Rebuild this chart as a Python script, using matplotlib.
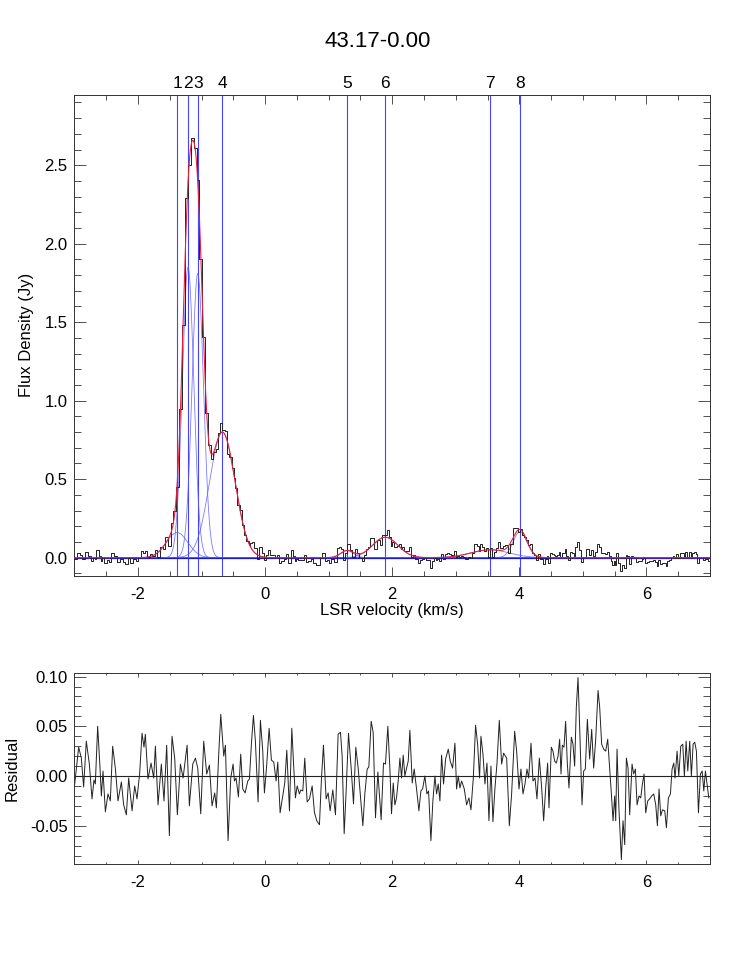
import numpy as np
import matplotlib
matplotlib.use('Agg')
import matplotlib.pyplot as plt
from matplotlib.ticker import MultipleLocator
import matplotlib.transforms as mtransforms

plt.rcParams['font.family'] = ['Liberation Sans', 'DejaVu Sans']
plt.rcParams['axes.unicode_minus'] = False

title = '43.17-0.00'

# Gaussian components of the fit: centre (km/s), peak (Jy), sigma (km/s)
comp_labels = ['1', '2', '3', '4', '5', '6', '7', '8']
comp_vel = [-1.386, -1.213, -1.060, -0.673, 1.290, 1.890, 3.540, 4.010]
comp_amp = [0.160, 1.850, 1.810, 0.800, 0.045, 0.130, 0.050, 0.165]
comp_sig = [0.170, 0.090, 0.090, 0.200, 0.100, 0.200, 0.300, 0.110]

# residual (data - fit)
res_vel = [
    -3.000, -2.934, -2.892, -2.856, -2.814, -2.766, -2.724, -2.693, -2.672, -2.635,
    -2.598, -2.577, -2.551, -2.514, -2.472, -2.436, -2.399, -2.357, -2.315, -2.262,
    -2.226, -2.184, -2.147, -2.094, -2.053, -2.016, -1.974, -1.937, -1.906, -1.885,
    -1.843, -1.795, -1.753, -1.727, -1.685, -1.633, -1.591, -1.549, -1.507, -1.465,
    -1.423, -1.381, -1.333, -1.291, -1.228, -1.192, -1.139, -1.097, -1.060, -1.013,
    -0.966, -0.919, -0.877, -0.835, -0.793, -0.767, -0.730, -0.698, -0.651, -0.625,
    -0.583, -0.541, -0.504,
    -0.483, -0.457, -0.420, -0.384, -0.352, -0.315, -0.273, -0.247, -0.216, -0.184,
    -0.153, -0.111, -0.074, -0.037, -0.011, 0.026, 0.063, 0.099, 0.136, 0.173,
    0.199, 0.236, 0.278, 0.309, 0.341, 0.383, 0.420, 0.451, 0.477, 0.504,
    0.540, 0.561, 0.593, 0.624, 0.661, 0.698, 0.740, 0.777, 0.813, 0.855,
    0.887, 0.918, 0.960, 0.992, 1.023, 1.065, 1.107, 1.149, 1.186, 1.212,
    1.244, 1.275, 1.312, 1.354, 1.391, 1.427, 1.464, 1.506, 1.538, 1.569,
    1.606, 1.632, 1.669, 1.700, 1.737, 1.774, 1.826, 1.863, 1.894, 1.931,
    1.963, 1.989, 2.016, 2.042, 2.068, 2.094, 2.121, 2.147, 2.173, 2.199,
    2.226, 2.252, 2.278, 2.315, 2.346, 2.383, 2.420, 2.451, 2.478, 2.514,
    2.546, 2.572, 2.609, 2.640, 2.672, 2.698, 2.724, 2.751, 2.777, 2.808,
    2.840, 2.882, 2.913, 2.950, 2.987, 3.013, 3.039, 3.066, 3.092, 3.134,
    3.171, 3.207, 3.239, 3.276, 3.312, 3.344, 3.375, 3.396, 3.428, 3.459,
    3.491, 3.522, 3.554, 3.585, 3.617, 3.648, 3.685, 3.722, 3.753, 3.801,
    3.843, 3.879, 3.927, 3.958, 3.995, 4.026, 4.058, 4.089, 4.121, 4.147,
    4.184, 4.215, 4.247, 4.278, 4.315, 4.352, 4.383, 4.415, 4.446,
    4.467, 4.504, 4.530, 4.556, 4.582, 4.609, 4.635, 4.656, 4.677, 4.703,
    4.729, 4.756, 4.782, 4.819, 4.845, 4.871, 4.897, 4.924, 4.950, 4.987,
    5.013, 5.039, 5.071, 5.107, 5.139, 5.170, 5.202, 5.239, 5.265, 5.296,
    5.328, 5.359, 5.391, 5.422, 5.454, 5.475, 5.501, 5.517, 5.538, 5.569,
    5.606, 5.632, 5.659, 5.685, 5.711, 5.737, 5.774, 5.800, 5.827, 5.853,
    5.884, 5.911, 5.937, 5.963, 5.989, 6.021, 6.052, 6.084, 6.115, 6.147,
    6.173, 6.199, 6.226, 6.252, 6.289, 6.315, 6.346, 6.378, 6.404, 6.430,
    6.451, 6.483, 6.509, 6.541, 6.572, 6.598, 6.625, 6.651, 6.682, 6.708,
    6.735, 6.761, 6.787, 6.819, 6.850, 6.877, 6.903, 6.929, 6.955, 6.982,
]
res_val = [
    -0.010, 0.029, 0.018, -0.011, 0.035, 0.012, -0.023, -0.004, -0.008, 0.050,
    0.008, -0.020, 0.005, -0.036, -0.018, -0.025, 0.030, 0.008, -0.025, -0.006,
    -0.029, -0.039, -0.002, -0.035, -0.010, -0.023, 0.003, 0.043, 0.029, 0.042,
    -0.003, 0.013, -0.002, 0.030, -0.029, 0.012, -0.025, 0.031, -0.060, 0.040,
    0.018, -0.039, 0.012, -0.002, 0.031, -0.030, 0.012, 0.018, 0.008, -0.038,
    0.035, 0.002, 0.011, -0.030, -0.017, -0.032, 0.022, 0.062, 0.020, 0.031,
    -0.065, -0.002, 0.012,
    -0.005, -0.002, -0.021, 0.022, -0.013, -0.017, -0.005, -0.003, 0.032, 0.061,
    0.035, -0.026, 0.056, 0.025, -0.017, 0.012, 0.048, 0.016, 0.014, -0.005,
    0.014, -0.037, -0.020, -0.007, 0.026, -0.035, 0.048, 0.008, -0.022, -0.010,
    -0.018, -0.014, -0.015, 0.018, -0.026, -0.023, -0.010, -0.037, -0.045, -0.049,
    -0.002, 0.031, -0.023, -0.017, -0.035, -0.014, -0.039, 0.042, 0.044, 0.020,
    -0.058, -0.015, 0.043, 0.008, -0.028, 0.029, 0.008, -0.025, -0.050, -0.018,
    0.007, 0.009, 0.055, 0.044, -0.042, 0.004, -0.044, 0.013, 0.012, 0.050,
    0.008, -0.038, -0.007, -0.029, -0.022, -0.005, 0.018, -0.002, 0.021, 0.000,
    0.008, 0.015, 0.046, -0.007, 0.007, -0.013, -0.035, -0.015, -0.013, 0.000,
    -0.018, -0.015, -0.065, -0.025, 0.000, -0.018, -0.008, -0.025, 0.021, -0.008,
    0.017, 0.027, 0.015, 0.008, 0.033, -0.013, 0.000, -0.012, -0.005, -0.013,
    -0.029, -0.022, -0.034, -0.002, 0.051, 0.032, -0.002, 0.040, 0.022, -0.008,
    0.013, -0.045, 0.010, -0.046, -0.012, 0.012, 0.056, 0.012, 0.023, 0.018,
    -0.050, -0.018, 0.045, 0.025, -0.013, 0.007, -0.018, -0.008, 0.007, -0.002,
    0.033, -0.005, -0.002, -0.023, 0.018, -0.012, -0.045, -0.012, 0.013,
    -0.032, 0.029, 0.025, 0.015, 0.013, 0.020, 0.037, 0.002, 0.031, 0.029,
    0.055, 0.012, -0.012, 0.039, 0.032, 0.010, 0.069, 0.099, 0.049, -0.029,
    0.005, 0.007, 0.057, 0.017, 0.047, 0.008, 0.037, 0.086, 0.069, 0.032,
    0.027, 0.025, 0.037, 0.008, -0.023, -0.045, -0.020, -0.045, 0.027, -0.035,
    -0.084, -0.045, -0.069, 0.018, 0.008, -0.039, 0.012, 0.002, 0.007, -0.029,
    -0.020, -0.022, -0.008, 0.002, -0.037, -0.025, -0.023, -0.020, -0.018, -0.029,
    -0.050, -0.013, -0.040, -0.034, -0.035, -0.052, -0.022, -0.018, 0.007, 0.013,
    -0.002, 0.025, 0.000, 0.030, 0.032, 0.000, 0.035, 0.005, 0.035, 0.000,
    0.032, 0.034, 0.025, -0.037, 0.002, 0.005, -0.015, 0.005, -0.008, -0.022,
]

res_vel = np.array(res_vel)
res_val = np.array(res_val)


def gauss(v, a, c, s):
    return a * np.exp(-(v - c) ** 2 / (2 * s ** 2))


def fit_model(v):
    return sum(gauss(v, a, c, s) for a, c, s in zip(comp_amp, comp_vel, comp_sig))


v_fine = np.linspace(-3, 7, 2001)
spectrum = fit_model(res_vel) + res_val

fig = plt.figure(figsize=(7.47, 9.61), dpi=100)
ax1 = fig.add_axes([0.0997, 0.4006, 0.8507, 0.5005])
ax2 = fig.add_axes([0.0997, 0.1009, 0.8507, 0.1988])

axis_col = '#333333'
for ax in (ax1, ax2):
    for sp in ax.spines.values():
        sp.set_linewidth(0.7)
        sp.set_color(axis_col)
    ax.set_xlim(-3, 7)
    ax.xaxis.set_major_locator(MultipleLocator(2))
    ax.xaxis.set_minor_locator(MultipleLocator(0.5))
    ax.tick_params(which='both', direction='in', top=True, right=True,
                   color=axis_col, width=0.6, labelsize=12)

ax1.tick_params(axis='x', which='major', length=6.5, pad=8)
ax1.tick_params(axis='x', which='minor', length=3.6)
ax1.tick_params(axis='y', which='major', length=8.6, pad=5)
ax1.tick_params(axis='y', which='minor', length=5)
ax2.tick_params(axis='x', which='major', length=2.9, pad=8)
ax2.tick_params(axis='x', which='minor', length=1.5)
ax2.tick_params(axis='y', which='major', length=8.6, pad=5)
ax2.tick_params(axis='y', which='minor', length=5)

# top panel: spectrum, fit and components
ax1.set_ylim(-0.117, 2.947)
ax1.yaxis.set_major_locator(MultipleLocator(0.5))
ax1.yaxis.set_minor_locator(MultipleLocator(0.1))
ax1.yaxis.set_major_formatter(matplotlib.ticker.FormatStrFormatter('%.1f'))

ax1.plot(res_vel, spectrum, color='#222222', lw=0.7, drawstyle='steps-mid', zorder=3)
for a, c, s in zip(comp_amp, comp_vel, comp_sig):
    ax1.plot(v_fine, gauss(v_fine, a, c, s), color='#5a5aff', lw=0.6, alpha=0.8, zorder=2)
ax1.axhline(0, color='#1a1acc', lw=0.9, zorder=2)
ax1.plot(v_fine, fit_model(v_fine), color='#e8203a', lw=0.8, zorder=4)

trans = mtransforms.blended_transform_factory(ax1.transData, ax1.transAxes)
for lab, c in zip(comp_labels, comp_vel):
    ax1.axvline(c, color='#4545ff', lw=0.8, zorder=1)
    ax1.text(c, 1.008, lab, transform=trans, ha='center', va='bottom', fontsize=12.5)

# bottom panel: residual
ax2.set_ylim(-0.0885, 0.1036)
ax2.yaxis.set_major_locator(MultipleLocator(0.05))
ax2.yaxis.set_minor_locator(MultipleLocator(0.01))
ax2.yaxis.set_major_formatter(matplotlib.ticker.FormatStrFormatter('%.2f'))
ax2.plot(res_vel, res_val, color='#222222', lw=0.7)
ax2.axhline(0, color='#222222', lw=0.8)

fig.text(0.506, 0.957, title, ha='center', va='center', fontsize=16)
fig.text(27 / 747, 1 - 335 / 961, 'Flux Density (Jy)', rotation=90,
         ha='center', va='center', fontsize=12)
fig.text(392 / 747, 1 - 611 / 961, 'LSR velocity (km/s)', ha='center',
         va='center', fontsize=12)
fig.text(12 / 747, 1 - 768 / 961, 'Residual', rotation=90,
         ha='center', va='center', fontsize=12)

plt.savefig('out.png', dpi=100)
